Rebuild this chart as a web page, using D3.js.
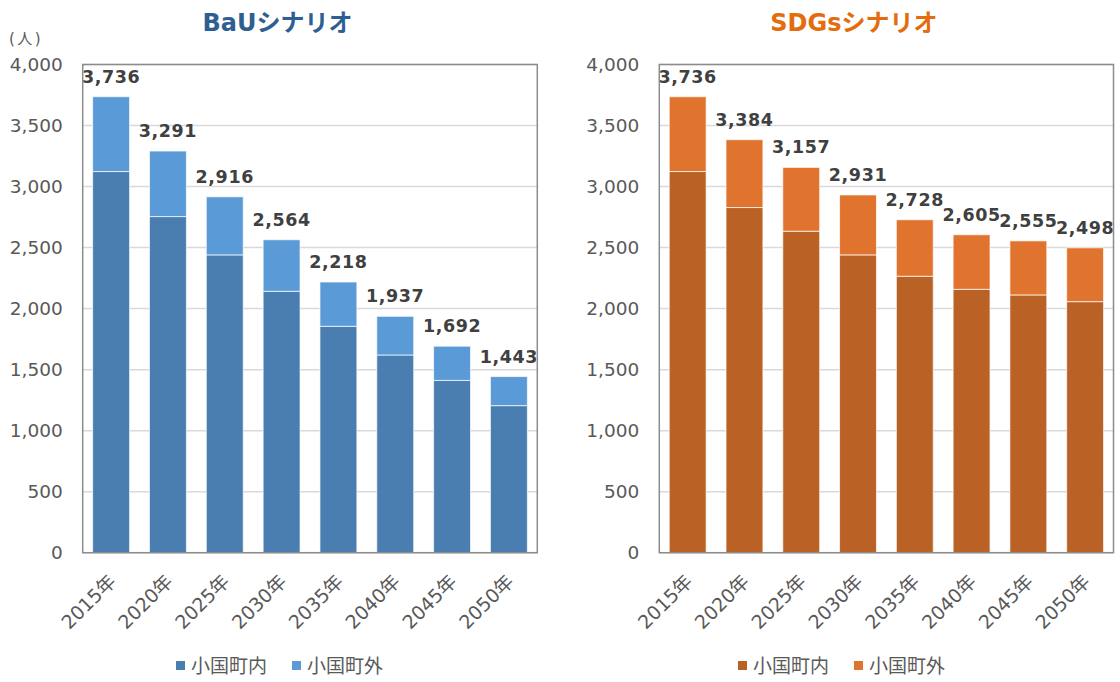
<!DOCTYPE html>
<html>
<head>
<meta charset="utf-8">
<script src="https://cdn.jsdelivr.net/npm/d3@7"></script>
<style>
html,body{margin:0;padding:0;background:#fff;}
svg{display:block;}
text{font-family:"DejaVu Sans","Noto Sans CJK JP",sans-serif;}
</style>
</head>
<body>
<svg id="chart" width="1120" height="682"></svg>
<script>
// ---- data ----
const years = ["2015年","2020年","2025年","2030年","2035年","2040年","2045年","2050年"];
const seriesNames = ["小国町内","小国町外"];
const yTicks = [0,500,1000,1500,2000,2500,3000,3500,4000];

const bauInside  = [3123,2754,2440,2142,1855,1620,1412,1205];
const bauOutside = [613,537,476,422,363,317,280,238];

const sdgInside  = [3123,2828,2634,2440,2265,2158,2112,2057];
const sdgOutside = [613,556,523,491,463,447,443,441];

const panels = [
  {title:"BaUシナリオ", titleColor:"#2F5E93", inside:bauInside, outside:bauOutside,
   colors:["#4A7EB0","#5A9AD6"], left:82.7, right:537.3, legendX:176, unit:true},
  {title:"SDGsシナリオ", titleColor:"#E36C0C", inside:sdgInside, outside:sdgOutside,
   colors:["#BA6226","#E0742E"], left:659.3, right:1113.5, legendX:738, unit:false}
];

const svg = d3.select("#chart");
const plotTop = 64.5, plotBottom = 552.7;
const y = d3.scaleLinear().domain([0,4000]).range([plotBottom, plotTop]);

panels.forEach(p => {
  const g = svg.append("g");
  const x = d3.scaleBand().domain(years).range([p.left, p.right])
    .paddingInner(0.35).paddingOuter(0.175);

  // title
  g.append("text").attr("x", (p.left+p.right)/2 - 32.5).attr("y", 31)
    .attr("text-anchor","middle").attr("font-size",24).attr("font-weight","bold")
    .attr("fill",p.titleColor).text(p.title);

  if (p.unit) {
    g.append("text").attr("x",9).attr("y",44).attr("font-size",15)
      .attr("letter-spacing",2.5)
      .attr("fill","#595959").text("(人)");
  }

  // gridlines
  g.append("g").selectAll("line").data(yTicks).join("line")
    .attr("x1",p.left).attr("x2",p.right)
    .attr("y1",d=>y(d)).attr("y2",d=>y(d))
    .attr("stroke","#D9D9D9").attr("stroke-width",1.5);

  // y axis labels via d3 axis
  const yAxis = d3.axisLeft(y).tickValues(yTicks).tickFormat(d3.format(",")).tickSize(0).tickPadding(20);
  const ya = g.append("g").attr("transform",`translate(${p.left},0)`).call(yAxis);
  ya.select(".domain").remove();
  ya.selectAll("text").attr("font-size",18.5).attr("fill","#595959")
    .attr("font-family","'DejaVu Sans',sans-serif");

  // stacked bars
  const rows = years.map((yr,i)=>({year:yr, inside:p.inside[i], outside:p.outside[i]}));
  const stack = d3.stack().keys(["inside","outside"])(rows);
  stack.forEach((layer,li)=>{
    g.append("g").selectAll("rect").data(layer).join("rect")
      .attr("x",d=>x(d.data.year))
      .attr("width",x.bandwidth())
      .attr("y",d=>y(d[1]))
      .attr("height",d=>y(d[0])-y(d[1]))
      .attr("fill",p.colors[li])
      .attr("stroke","#ffffff").attr("stroke-opacity",0.7).attr("stroke-width",1);
  });

  // total labels
  g.append("g").selectAll("text").data(rows).join("text")
    .attr("x",d=>x(d.year)+x.bandwidth()/2)
    .attr("y",d=>y(d.inside+d.outside)-14)
    .attr("text-anchor","middle").attr("font-size",17.5).attr("font-weight","bold")
    .attr("letter-spacing",0.6)
    .attr("fill","#404040")
    .text(d=>d3.format(",")(d.inside+d.outside));

  // plot border
  g.append("rect").attr("x",p.left).attr("y",plotTop).attr("width",p.right-p.left)
    .attr("height",plotBottom-plotTop).attr("fill","none").attr("stroke","#8C8C8C").attr("stroke-width",1.5);

  // x axis labels
  const xAxis = d3.axisBottom(x).tickSize(0).tickPadding(0);
  const xa = g.append("g").attr("transform",`translate(0,${plotBottom})`).call(xAxis);
  xa.select(".domain").remove();
  xa.selectAll("text")
    .attr("font-size",19).attr("fill","#595959")
    .attr("text-anchor","end")
    .attr("dy",null).attr("y",null)
    .attr("transform","translate(6,30) rotate(-45)");

  // legend
  const lg = g.append("g").attr("transform",`translate(${p.legendX},0)`);
  let lx = 0;
  seriesNames.forEach((name,i)=>{
    lg.append("rect").attr("x",lx).attr("y",661).attr("width",9).attr("height",9)
      .attr("fill",p.colors[i]);
    lg.append("text").attr("x",lx+15).attr("y",673).attr("font-size",19)
      .attr("fill","#595959").text(name);
    lx += 116;
  });
});
</script>
</body>
</html>
